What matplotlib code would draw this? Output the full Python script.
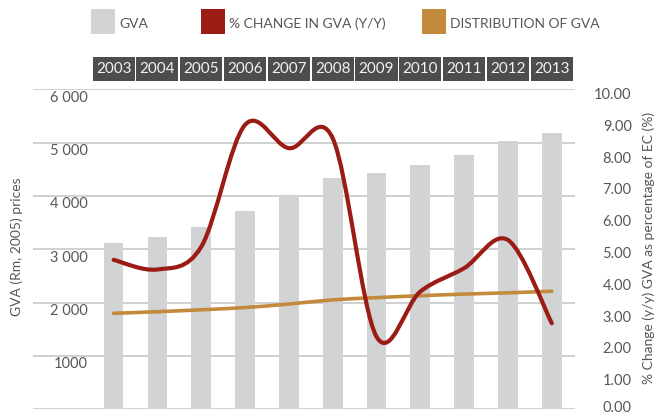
import matplotlib
matplotlib.use("Agg")
import matplotlib.pyplot as plt
import matplotlib.transforms as mtransforms
from matplotlib.patches import Rectangle, PathPatch
from matplotlib.path import Path

plt.rcParams["font.family"] = ["Lato", "DejaVu Sans"]

years = ["2003", "2004", "2005", "2006", "2007", "2008", "2009", "2010", "2011", "2012", "2013"]
gva = [3110, 3230, 3410, 3710, 4000, 4340, 4430, 4580, 4760, 5030, 5180]
pct_change = [4.67, 4.37, 5.08, 8.89, 8.16, 8.47, 2.27, 3.68, 4.41, 5.29, 2.69]
distribution = [3.00, 3.05, 3.11, 3.18, 3.29, 3.42, 3.49, 3.55, 3.60, 3.64, 3.69]
left_ticks = [1000, 2000, 3000, 4000, 5000, 6000]
left_labels = ["1000", "2 000", "3 000", "4 000", "5 000", "6 000"]
right_ticks = list(range(11))

BAR = "#d1d3d4"
RED = "#9a1c14"
ORANGE = "#c38a3c"
GRID = "#c4c4c4"
HEAD = "#4d4d4d"
TXT = "#5c5652"

W, H = 657, 416
fig = plt.figure(figsize=(W / 100, H / 100), dpi=100)
ax = fig.add_axes([33 / W, (H - 409.3) / H, 542 / W, 320 / H])
ax2 = ax.twinx()

x = list(range(len(years)))
ax.set_xlim(-1.84, 10.53)
ax.set_ylim(0, 6000)
ax2.set_ylim(0, 10)

for a in (ax, ax2):
    for s in a.spines.values():
        s.set_visible(False)
    a.set_xticks([])
    a.set_yticks([])

for v in [0] + left_ticks:
    ax.axhline(v, color=GRID, lw=1.1, zorder=1)
ax.bar(x, gva, width=0.45, color=BAR, zorder=2)


def smooth(xs, ys):
    # excel-like smoothed line (catmull-rom as cubic bezier)
    n = len(xs)
    verts = [(xs[0], ys[0])]
    codes = [Path.MOVETO]
    for i in range(n - 1):
        p0 = i - 1 if i > 0 else i
        p3 = i + 2 if i + 2 < n else i + 1
        c1 = (xs[i] + (xs[i + 1] - xs[p0]) / 6, ys[i] + (ys[i + 1] - ys[p0]) / 6)
        c2 = (xs[i + 1] - (xs[p3] - xs[i]) / 6, ys[i + 1] - (ys[p3] - ys[i]) / 6)
        verts += [c1, c2, (xs[i + 1], ys[i + 1])]
        codes += [Path.CURVE4] * 3
    return Path(verts, codes)


ax2.add_patch(PathPatch(smooth(x, distribution), fill=False, ec=ORANGE, lw=2.6,
                        capstyle="round", zorder=3))
ax2.add_patch(PathPatch(smooth(x, pct_change), fill=False, ec=RED, lw=3.0,
                        capstyle="round", zorder=4))

# left tick labels sit inside the plot, just under each gridline
for v, lab in zip(left_ticks, left_labels):
    ax.text(-0.587, v - 154, lab, ha="right", va="center", fontsize=10.5, color=TXT)

# right tick labels
for v in right_ticks:
    yy = (v * 0.994 - 0.116) / 10 if v > 0 else 0.005
    ax2.text(1.1046, yy, f"{v:.2f}", transform=ax2.transAxes,
             ha="right", va="center", fontsize=10.5, color=TXT)

fig.text(17 / W, 1 - 247 / H, "GVA (Rm, 2005) prices", rotation=90,
         ha="center", va="center", fontsize=10, color=TXT)
fig.text(649 / W, 1 - 248 / H, "% Change (y/y) GVA as percentage of EC (%)", rotation=90,
         ha="center", va="center", fontsize=10, color=TXT)

# year header boxes
bt = mtransforms.blended_transform_factory(ax.transData, fig.transFigure)
for i, yr in enumerate(years):
    ax.add_patch(Rectangle((i - 0.48, 1 - 81 / H), 0.96, 24 / H, transform=bt,
                           fc=HEAD, ec="none", clip_on=False))
    ax.text(i, 1 - 69 / H, yr, transform=bt, ha="center", va="center",
            fontsize=11, color="#f2f2f2", clip_on=False)

# legend
for px, col, lab in [(91, BAR, "GVA"), (201, RED, "% CHANGE IN GVA (Y/Y)"),
                     (422, ORANGE, "DISTRIBUTION OF GVA")]:
    fig.patches.append(Rectangle((px / W, 1 - 34 / H), 24 / W, 25 / H,
                                 transform=fig.transFigure, fc=col, ec="none"))
    fig.text((px + 28) / W, 1 - 24 / H, lab, ha="left", va="center",
             fontsize=10, color=TXT)

fig.savefig("out.png", dpi=100, facecolor="white")
